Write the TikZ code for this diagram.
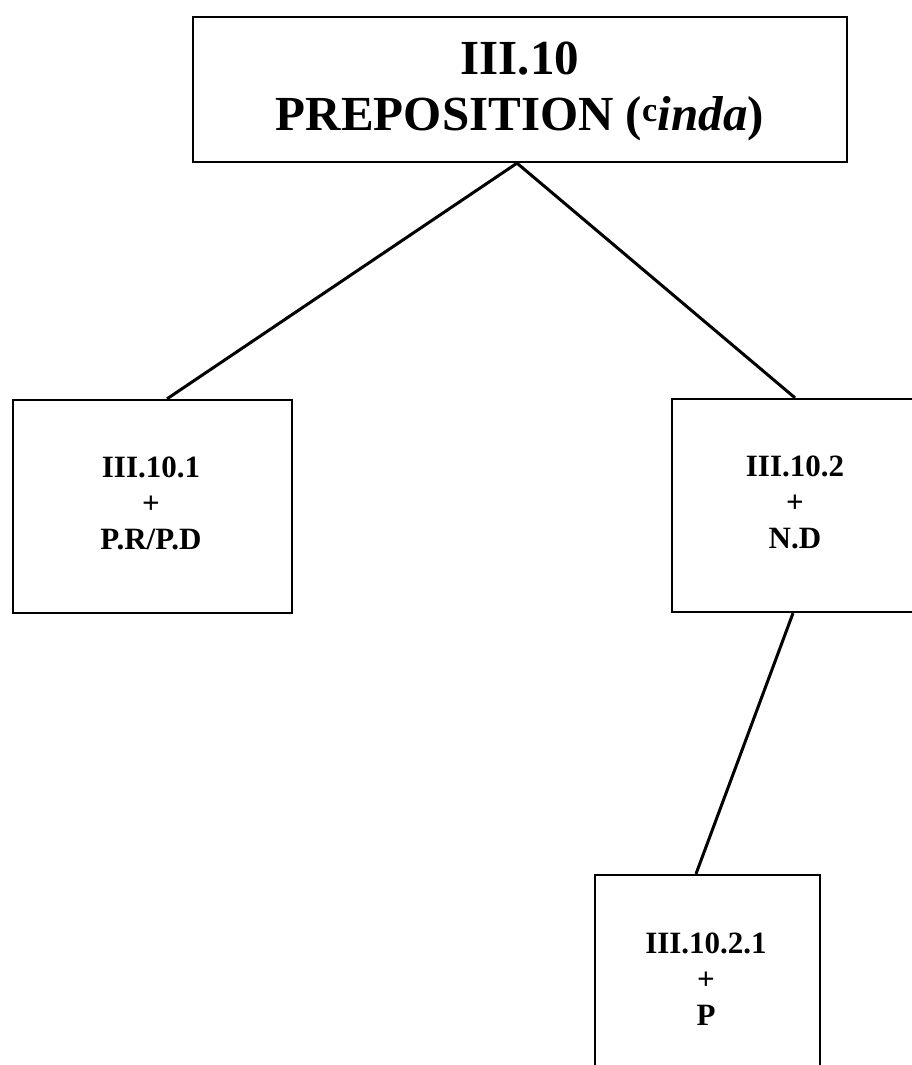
\documentclass[tikz,border=0pt]{standalone}
\usepackage{fontspec}
\setmainfont{Liberation Serif}
\begin{document}
\begin{tikzpicture}[x=1pt,y=-1pt,
  box/.style={draw=black,line width=2.3pt,rectangle,inner sep=0pt},
  link/.style={draw=black,line width=3pt},
  boxtext/.style={align=center,inner sep=0pt,font=\bfseries\fontsize{31}{36}\selectfont},
  headtext/.style={align=center,inner sep=0pt,font=\bfseries\fontsize{49}{56}\selectfont}]
\useasboundingbox (0,0) rectangle (912,1065);
\fill[white] (0,0) rectangle (912,1065);

% boxes
\node[box,minimum width=654pt,minimum height=145pt] (top) at (520,89.5) {};
\node[box,minimum width=279pt,minimum height=213pt] (left) at (152.5,506.5) {};
\node[box,minimum width=246pt,minimum height=213pt] (right) at (795,505.5) {};
\node[box,minimum width=225pt,minimum height=230pt] (bot) at (707.5,990) {};

% texts
\node[headtext] (toptext) at (520,91) {III.10\\PREPOSITION (\textsuperscript{c}\textit{inda})};
\node[boxtext] (lefttext) at (151,503) {III.10.1\\+\\P.R/P.D};
\node[boxtext] (righttext) at (795,502) {III.10.2\\+\\N.D};
\node[boxtext] (bottext) at (706,979) {III.10.2.1\\+\\P};

% connectors
\draw[link] ([xshift=-3pt]top.south) -- ([xshift=14.5pt]left.north);
\draw[link] ([xshift=-3pt]top.south) -- (right.north);
\draw[link] ([xshift=-2pt]right.south) -- ([xshift=-11.5pt]bot.north);
\end{tikzpicture}
\end{document}
